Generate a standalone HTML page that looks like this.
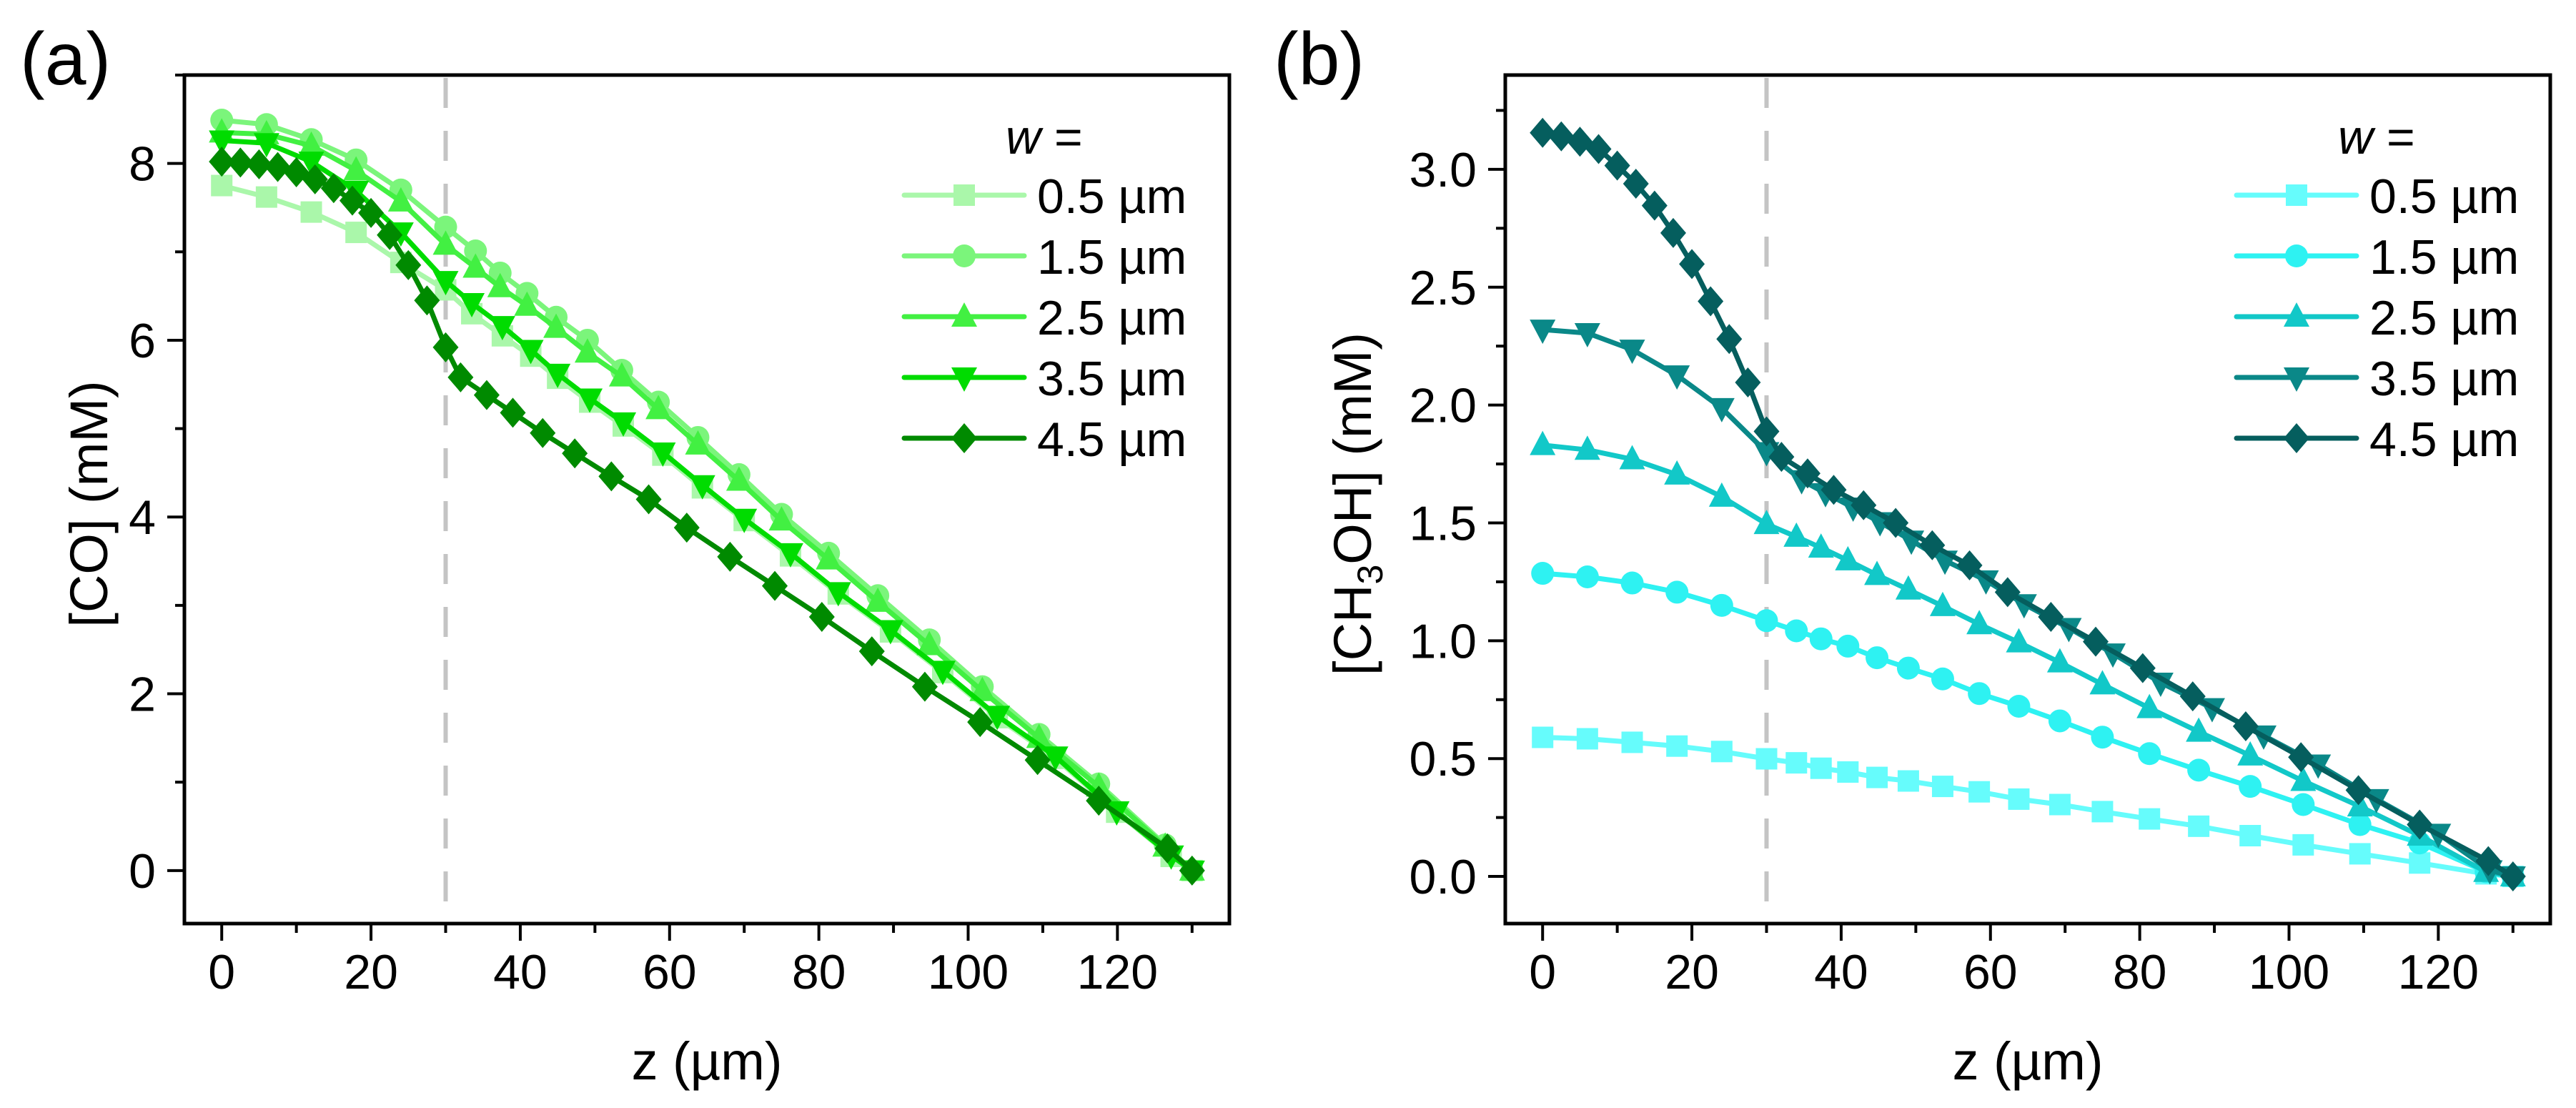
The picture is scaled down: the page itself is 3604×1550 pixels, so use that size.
<!DOCTYPE html>
<html><head><meta charset="utf-8"><style>
html,body{margin:0;padding:0;background:#fff;}
svg{display:block;font-family:"Liberation Sans",Arial,sans-serif;}
</style></head><body>
<svg id="fig" width="3604" height="1550" viewBox="0 0 3604 1550" xmlns="http://www.w3.org/2000/svg">
<rect x="0" y="0" width="3604" height="1550" fill="#fff"/>
<text x="28" y="118" font-size="104">(a)</text>
<text x="1782" y="118" font-size="104">(b)</text>
<g id="pa"></g>
<g id="pb"></g>
</svg>
<script>
// ---------- data ----------
const xTicks = [0,20,40,60,80,100,120];
const aYTicks = [0,2,4,6,8];
const bYTicks = [0.0,0.5,1.0,1.5,2.0,2.5,3.0];
const bYTickLabels = ["0.0","0.5","1.0","1.5","2.0","2.5","3.0"];
const seriesLabels = ["0.5 µm","1.5 µm","2.5 µm","3.5 µm","4.5 µm"];

const zMesh = [0,6,12,18,24,30,34,37.3,40.9,44.8,49,53.6,58.5,63.8,69.3,75,81.3,87.9,94.8,101.9,109.5,117.5,126.4,130];
const zDown = [0,6,12,18,24,30,33.5,37.6,41.4,45,49.3,53.8,59.1,64.4,70,76.2,82.6,89.6,96.6,103.9,111.7,119.9,127.2,130];
const zDownB = [0,6,12,18,24,30,34.7,37.9,41.6,45.2,49.4,53.9,59.4,64.5,70.5,76.4,82.8,89.7,96.6,103.9,111.7,120,126.9,130];
const zDiam = [0,2.5,5,7.5,10,12.5,15,17.5,20,22.5,25,27.5,30,32,35.5,39,43,47.3,52.2,57.2,62.3,68.1,74.1,80.4,87.1,94.2,101.6,109.3,117.5,126.7,130];

const coW05 = [7.75,7.62,7.45,7.22,6.88,6.57,6.3,6.05,5.82,5.57,5.3,5.03,4.7,4.33,3.96,3.56,3.13,2.7,2.24,1.73,1.27,0.66,0.16,0];
const coW15 = [8.49,8.44,8.27,8.04,7.70,7.28,7.01,6.76,6.53,6.26,6.0,5.66,5.3,4.9,4.48,4.03,3.59,3.11,2.61,2.08,1.54,0.98,0.29,0];
const coW25 = [8.35,8.33,8.2,7.92,7.57,7.08,6.82,6.6,6.39,6.14,5.86,5.59,5.22,4.82,4.41,3.96,3.52,3.04,2.55,2.03,1.5,0.95,0.27,0];
const coW35 = [8.26,8.23,8.02,7.69,7.22,6.67,6.42,6.16,5.89,5.62,5.34,5.07,4.73,4.36,3.98,3.59,3.15,2.72,2.26,1.75,1.29,0.67,0.17,0];
const coW45 = [8.02,8.01,7.99,7.96,7.90,7.82,7.72,7.58,7.44,7.19,6.85,6.45,5.92,5.58,5.38,5.18,4.95,4.72,4.46,4.2,3.88,3.55,3.22,2.87,2.48,2.08,1.68,1.25,0.79,0.25,0];

const mW05 = [0.59,0.584,0.569,0.553,0.53,0.499,0.482,0.459,0.443,0.42,0.405,0.382,0.359,0.328,0.305,0.275,0.244,0.213,0.173,0.134,0.096,0.057,0.011,0];
const mW15 = [1.286,1.271,1.245,1.206,1.15,1.085,1.042,1.008,0.977,0.928,0.884,0.838,0.776,0.722,0.66,0.591,0.521,0.451,0.382,0.305,0.22,0.142,0.02,0];
const mW25 = [1.83,1.81,1.77,1.705,1.611,1.495,1.441,1.395,1.341,1.279,1.217,1.147,1.07,0.993,0.908,0.815,0.714,0.614,0.513,0.405,0.297,0.173,0.019,0];
const mW35 = [2.32,2.305,2.235,2.126,1.987,1.8,1.681,1.626,1.565,1.503,1.425,1.34,1.256,1.155,1.054,0.946,0.822,0.714,0.598,0.475,0.328,0.181,0.026,0];
const mW45 = [3.155,3.14,3.117,3.086,3.016,2.939,2.846,2.73,2.598,2.44,2.28,2.096,1.888,1.78,1.71,1.64,1.575,1.50,1.405,1.32,1.206,1.101,0.996,0.884,0.764,0.637,0.506,0.366,0.22,0.065,0];

const NS = "http://www.w3.org/2000/svg";
function mk(parent, tag, attrs, text) {
  const e = document.createElementNS(NS, tag);
  for (const k in attrs) e.setAttribute(k, attrs[k]);
  if (text !== undefined) e.textContent = text;
  parent.appendChild(e);
  return e;
}

function marker(g, shape, cx, cy, color) {
  let m;
  if (shape === "square") m = mk(g, "rect", {x: cx - 15, y: cy - 15, width: 30, height: 30, fill: color});
  else if (shape === "circle") m = mk(g, "circle", {cx: cx, cy: cy, r: 16, fill: color});
  else if (shape === "up") m = mk(g, "polygon", {points: `${cx},${cy - 20} ${cx + 18},${cy + 14} ${cx - 18},${cy + 14}`, fill: color});
  else if (shape === "down") m = mk(g, "polygon", {points: `${cx},${cy + 20} ${cx + 18},${cy - 14} ${cx - 18},${cy - 14}`, fill: color});
  else m = mk(g, "polygon", {points: `${cx},${cy - 21} ${cx + 18},${cy} ${cx},${cy + 21} ${cx - 18},${cy}`, fill: color});
  
  
  return m;
}

function panel(cfg) {
  const g = document.getElementById(cfg.id);
  const L = cfg.left, R = cfg.right, T = 105, B = 1292;
  const sx = v => L + (v - (-5)) / 140 * (R - L);
  const sy = v => B - (v - cfg.ymin) / (cfg.ymax - cfg.ymin) * (B - T);
  const dl = mk(g, "line", {x1: sx(30), y1: T + 4, x2: sx(30), y2: B - 4, stroke: "#c4c4c4", "stroke-width": 6, "stroke-dasharray": "42 32"});
  
  
  const shapes = ["square","circle","up","down","diamond"];
  cfg.series.forEach((vals, i) => {
    const zs = cfg.zs[i];
    const sg = mk(g, "g", {});
    
    
    const pts = vals.map((v, k) => `${sx(zs[k]).toFixed(1)},${sy(v).toFixed(1)}`).join(" ");
    const pl = mk(sg, "polyline", {points: pts, fill: "none", stroke: cfg.colors[i], "stroke-width": 7, "stroke-linejoin": "round"});
    
    
    vals.forEach((v, k) => marker(sg, shapes[i], sx(zs[k]), sy(v), cfg.colors[i]));
  });
  const fr = mk(g, "rect", {x: L, y: T, width: R - L, height: B - T, fill: "none", stroke: "#000", "stroke-width": 5});
  
  
  for (let v = 0; v <= 130; v += 10) {
    const major = v % 20 === 0;
    const t = mk(g, "line", {x1: sx(v), y1: B, x2: sx(v), y2: B + (major ? 24 : 13), stroke: "#000", "stroke-width": 4});
    
    
  }
  xTicks.forEach(v => {
    const t = mk(g, "text", {x: sx(v), y: 1383, "font-size": 68, "text-anchor": "middle"}, String(v));
    
    
  });
  for (let v = cfg.minorStart; v <= cfg.ymax + 1e-9; v += cfg.minorStep) {
    const isMaj = cfg.yTicks.some(t => Math.abs(t - v) < 1e-6);
    const t = mk(g, "line", {x1: L, y1: sy(v), x2: L - (isMaj ? 24 : 13), y2: sy(v), stroke: "#000", "stroke-width": 4});
    
    
  }
  cfg.yTicks.forEach((v, i) => {
    const t = mk(g, "text", {x: L - 40, y: sy(v) + 24, "font-size": 68, "text-anchor": "end"}, cfg.yLabels[i]);
    
    
  });
  const xt = mk(g, "text", {x: (L + R) / 2, y: 1510, "font-size": 74, "text-anchor": "middle"}, "z (µm)");
  
  
  const yt = mk(g, "text", {x: 0, y: 0, "font-size": 74, "text-anchor": "middle", transform: `translate(${cfg.ytitleX},705) rotate(-90)`});
  
  
  if (cfg.id === "pa") {
    yt.textContent = "[CO] (mM)";
  } else {
    mk(yt, "tspan", {}, "[CH");
    mk(yt, "tspan", {"font-size": 50, dy: 16}, "3");
    mk(yt, "tspan", {dy: -16}, "OH] (mM)");
  }
  const lg = mk(g, "g", {});
  
  
  const wt = mk(lg, "text", {x: cfg.legX + 142, y: 215, "font-size": 68}, "");
  
  
  mk(wt, "tspan", {"font-style": "italic"}, "w");
  mk(wt, "tspan", {}, " =");
  seriesLabels.forEach((lab, i) => {
    const y = 273 + i * 85;
    const e = mk(lg, "g", {});
    
    
    mk(e, "line", {x1: cfg.legX, y1: y, x2: cfg.legX + 168, y2: y, stroke: cfg.colors[i], "stroke-width": 7, "stroke-linecap": "round"});
    marker(e, shapes[i], cfg.legX + 84, y, cfg.colors[i]);
    mk(e, "text", {x: cfg.legX + 186, y: y + 25, "font-size": 68}, lab);
  });
}

panel({
  id: "pa", left: 258, right: 1720, ymin: -0.6, ymax: 9,
  yTicks: aYTicks, yLabels: aYTicks.map(String), minorStart: 0, minorStep: 1, ytitleX: 150,
  series: [coW05, coW15, coW25, coW35, coW45],
  zs: [zDown, zMesh, zMesh, zDown, zDiam],
  colors: ["#aaf7aa", "#7bf57b", "#42f042", "#00dc00", "#008a00"],
  legX: 1265
});
panel({
  id: "pb", left: 2106, right: 3568, ymin: -0.2, ymax: 3.4,
  yTicks: bYTicks, yLabels: bYTickLabels, minorStart: 0, minorStep: 0.25, ytitleX: 1918,
  series: [mW05, mW15, mW25, mW35, mW45],
  zs: [zMesh, zMesh, zMesh, zDownB, zDiam],
  colors: ["#66fcfc", "#2ef2f2", "#12c8c8", "#0a8888", "#055e5e"],
  legX: 3129
});
</script>
</body></html>
